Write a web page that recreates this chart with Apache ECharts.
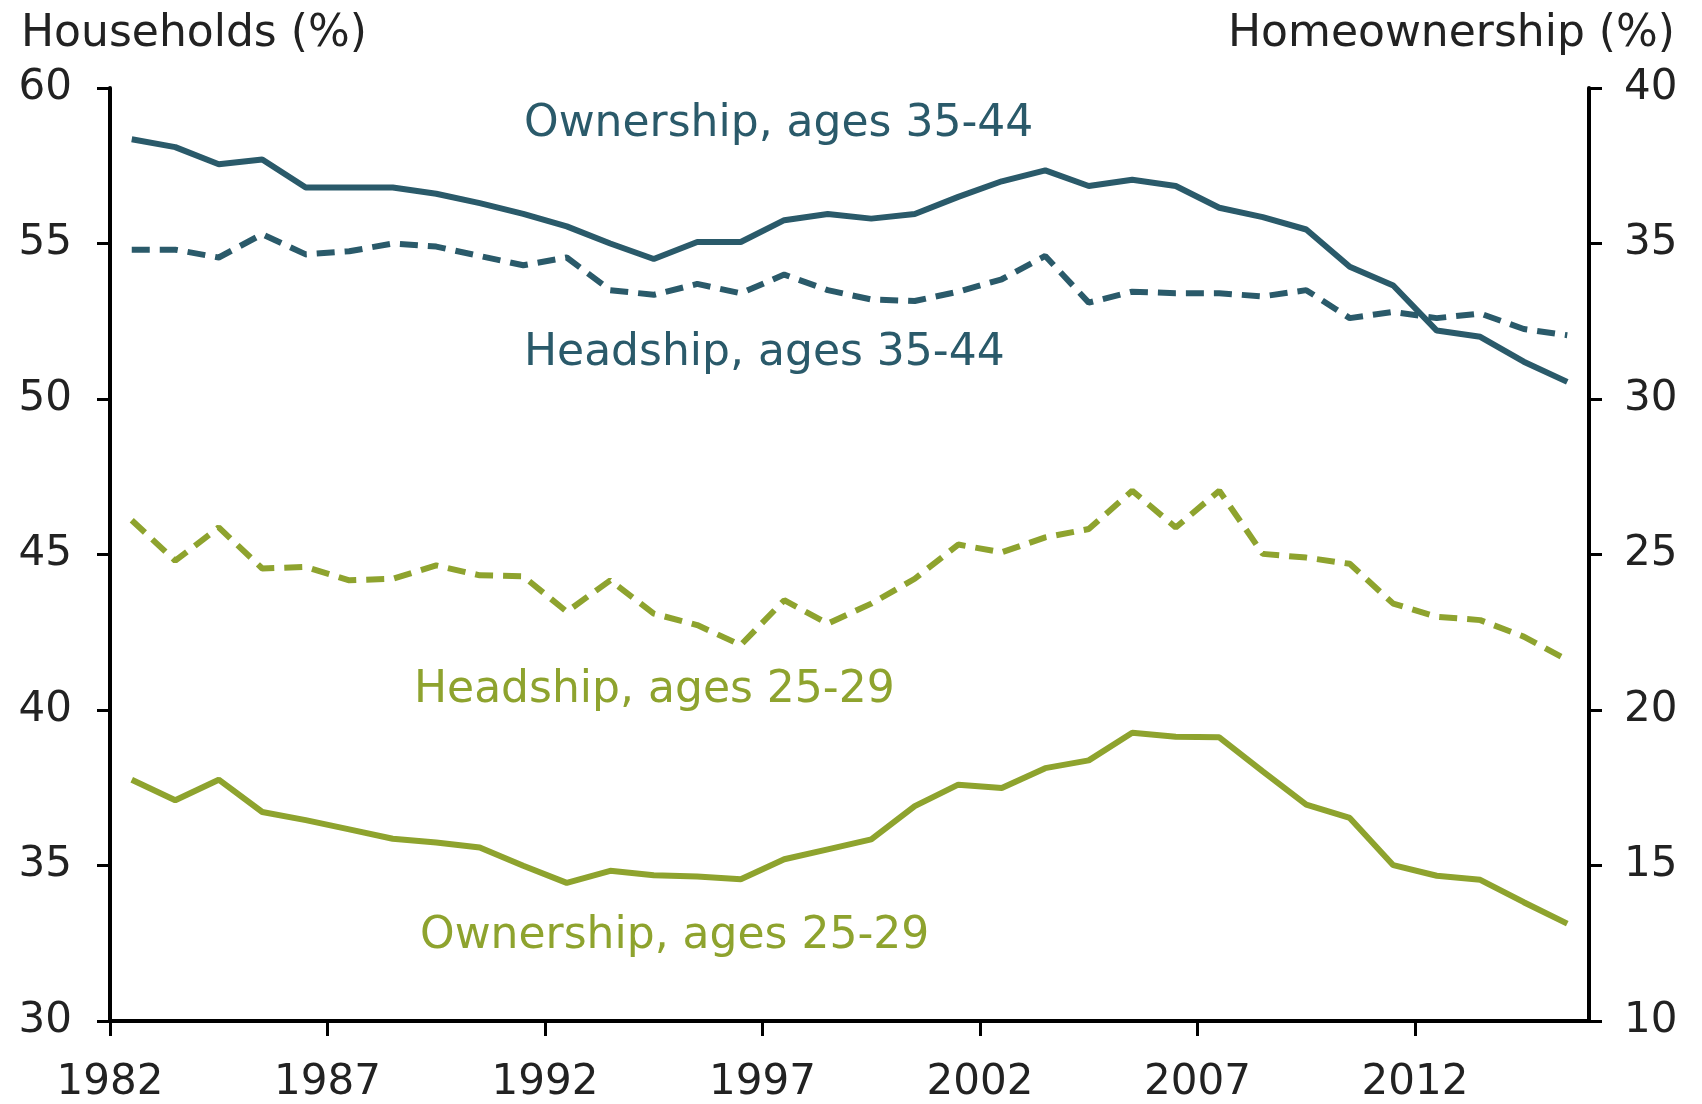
<!DOCTYPE html>
<html>
<head>
<meta charset="utf-8">
<script src="https://cdn.jsdelivr.net/npm/echarts@6/dist/echarts.min.js"></script>
<style>
    html, body {
        margin: 0;
        padding: 0;
        background: #fff;
    }
    #my-charts {
        width: 1702px;
        height: 1104px;
    }
</style>
</head>
<body>
<div id="my-charts"></div>
<script>
// years of the survey, plotted mid-year
const years = [1982, 1983, 1984, 1985, 1986, 1987, 1988, 1989, 1990, 1991, 1992, 1993,
  1994, 1995, 1996, 1997, 1998, 1999, 2000, 2001, 2002, 2003, 2004, 2005, 2006, 2007,
  2008, 2009, 2010, 2011, 2012, 2013, 2014, 2015]
const tickYears = [1982, 1987, 1992, 1997, 2002, 2007, 2012]

// households (%) - left axis
const headship3544 = [54.8, 54.8, 54.55, 55.3, 54.65, 54.75, 55.0, 54.9, 54.6, 54.3, 54.55, 53.5,
  53.35, 53.7, 53.4, 54.0, 53.5, 53.2, 53.15, 53.45, 53.85, 54.6, 53.1, 53.45, 53.4, 53.4,
  53.3, 53.5, 52.6, 52.8, 52.6, 52.75, 52.25, 52.05]
const headship2529 = [46.1, 44.8, 45.87, 44.55, 44.6, 44.17, 44.22, 44.65, 44.33, 44.3, 43.16, 44.17,
  43.1, 42.73, 42.09, 43.53, 42.78, 43.42, 44.22, 45.32, 45.07, 45.55, 45.82, 47.05, 45.87, 47.05,
  45.02, 44.9, 44.7, 43.42, 43.0, 42.89, 42.36, 41.61]

// homeownership (%) - right axis
const ownership3544 = [38.35, 38.1, 37.55, 37.7, 36.8, 36.8, 36.8, 36.6, 36.3, 35.95, 35.55, 35.0,
  34.5, 35.05, 35.05, 35.75, 35.95, 35.8, 35.95, 36.5, 37.0, 37.35, 36.85, 37.05, 36.85, 36.15,
  35.85, 35.45, 34.25, 33.65, 32.2, 32.0, 31.2, 30.55]
const ownership2529 = [17.76, 17.1, 17.76, 16.72, 16.46, 16.16, 15.86, 15.74, 15.58, 14.99, 14.44, 14.83,
  14.69, 14.65, 14.56, 15.2, 15.52, 15.84, 16.91, 17.6, 17.49, 18.13, 18.38, 19.27, 19.14, 19.12,
  18.03, 16.96, 16.53, 15.01, 14.67, 14.54, 13.82, 13.13]

const teal = '#2a5a6a'
const olive = '#8ea32e'
const font = 'DejaVu Sans'

function pairs(vals) {
  // annual values sit in the middle of their year
  return years.map((y, i) => [y + 0.5, vals[i]])
}

function yAxisBase(pos, min, max, margin) {
  return {
    type: 'value',
    position: pos,
    min: min,
    max: max,
    interval: 5,
    axisLine: {show: true, lineStyle: {color: '#000', width: 4}},
    axisTick: {show: true, length: 13, lineStyle: {color: '#000', width: 3}},
    axisLabel: {fontFamily: font, fontSize: 42, color: '#222', margin: margin},
    splitLine: {show: false}
  }
}

let chartDom = document.getElementById('my-charts')
let myChart = echarts.init(chartDom)
myChart.setOption({
  animation: false,
  grid: {left: 110, right: 113, top: 88, bottom: 78},
  xAxis: {
    type: 'value',
    min: 1982,
    max: 2016,
    axisLine: {onZero: false, lineStyle: {color: '#000', width: 4}},
    axisTick: {show: true, customValues: tickYears, length: 15, lineStyle: {color: '#000', width: 3}},
    axisLabel: {
      customValues: tickYears,
      formatter: v => String(v),
      fontFamily: font, fontSize: 42, color: '#222', margin: 41
    },
    splitLine: {show: false}
  },
  yAxis: [
    yAxisBase('left', 30, 60, 38),
    yAxisBase('right', 10, 40, 35)
  ],
  series: [
    {
      name: 'Ownership, ages 35-44',
      type: 'line',
      yAxisIndex: 1,
      symbol: 'none',
      data: pairs(ownership3544),
      lineStyle: {color: teal, width: 6}
    },
    {
      name: 'Headship, ages 35-44',
      type: 'line',
      yAxisIndex: 0,
      symbol: 'none',
      data: pairs(headship3544),
      lineStyle: {color: teal, width: 6, type: [18, 10]}
    },
    {
      name: 'Headship, ages 25-29',
      type: 'line',
      yAxisIndex: 0,
      symbol: 'none',
      data: pairs(headship2529),
      lineStyle: {color: olive, width: 6, type: [18, 10]}
    },
    {
      name: 'Ownership, ages 25-29',
      type: 'line',
      yAxisIndex: 1,
      symbol: 'none',
      data: pairs(ownership2529),
      lineStyle: {color: olive, width: 6}
    }
  ],
  graphic: [
    {type: 'text', left: 21, top: 13, style: {text: 'Households (%)', font: '44px "DejaVu Sans"', fill: '#222'}},
    {type: 'text', right: 27, top: 13, style: {text: 'Homeownership (%)', font: '44px "DejaVu Sans"', fill: '#222'}},
    {type: 'text', left: 524, top: 103, style: {text: 'Ownership, ages 35-44', font: '44px "DejaVu Sans"', fill: teal}},
    {type: 'text', left: 524, top: 332, style: {text: 'Headship, ages 35-44', font: '44px "DejaVu Sans"', fill: teal}},
    {type: 'text', left: 414, top: 669, style: {text: 'Headship, ages 25-29', font: '44px "DejaVu Sans"', fill: olive}},
    {type: 'text', left: 420, top: 915, style: {text: 'Ownership, ages 25-29', font: '44px "DejaVu Sans"', fill: olive}}
  ]
})
</script>
</body>
</html>
